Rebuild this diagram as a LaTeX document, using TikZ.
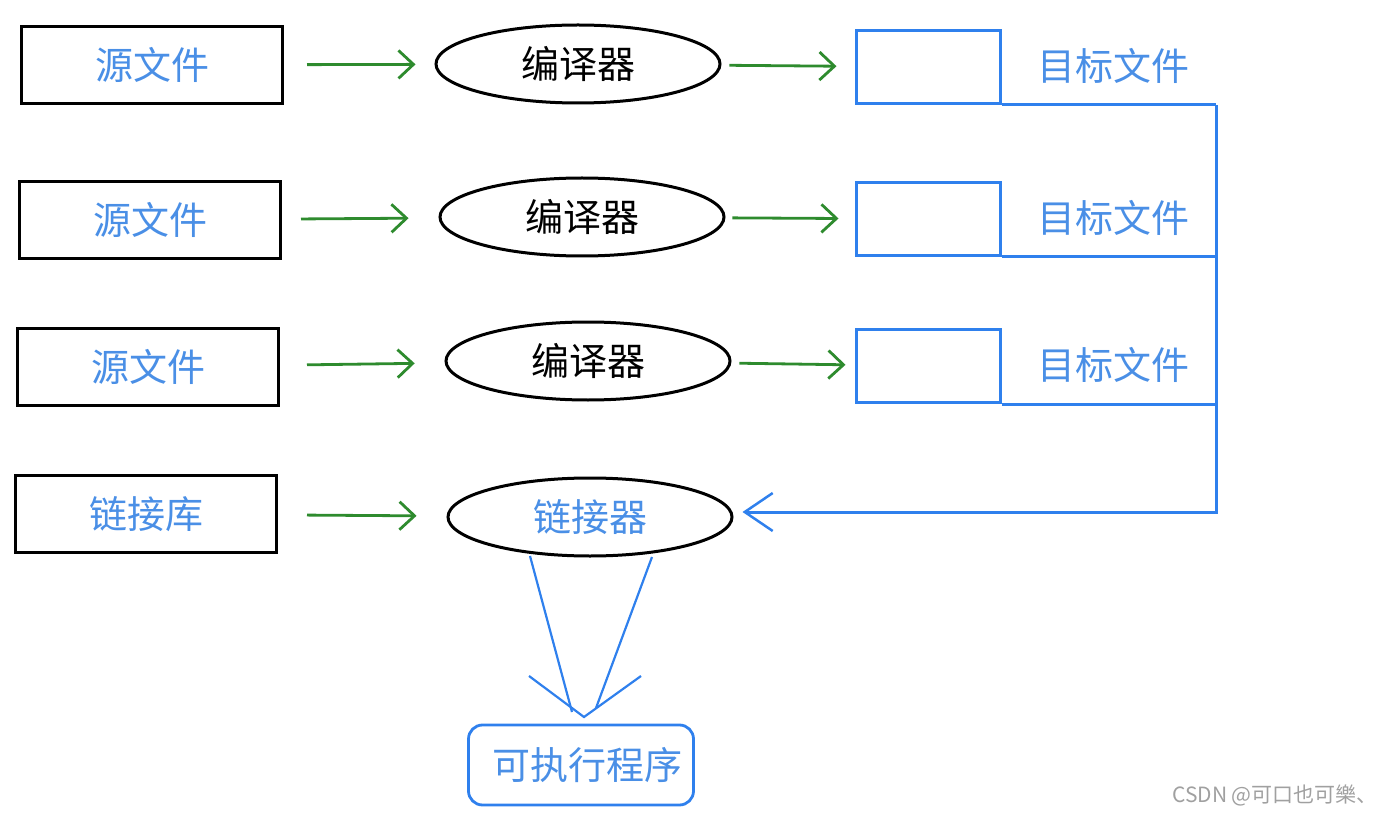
\documentclass[tikz,border=0pt]{standalone}
\usepackage{fontspec}
\setmainfont{Noto Sans CJK SC}
\usetikzlibrary{shapes.geometric,arrows.meta}
\definecolor{ablue}{HTML}{2F80ED}
\definecolor{tblue}{HTML}{4A8FE6}
\definecolor{agreen}{HTML}{2E8B2E}
\definecolor{wgray}{HTML}{A0A0A0}
\begin{document}
\begin{tikzpicture}[x=1pt,y=-1pt,
  big/.style={font=\fontsize{38}{44}\selectfont},
  srcbox/.style={draw=black,line width=3pt,minimum width=261pt,minimum height=77pt,inner sep=0pt,text=tblue,big},
  comp/.style={ellipse,draw=black,line width=3pt,minimum width=284pt,minimum height=78pt,inner sep=0pt,big},
  tgtbox/.style={draw=ablue,line width=3pt,minimum width=144pt,minimum height=73pt,inner sep=0pt},
  tgtlabel/.style={text=tblue,big,inner sep=0pt},
  garrow/.style={draw=agreen,line width=2.8pt,-{Straight Barb[length=15pt,width=28pt,line width=2.8pt]}},
  bus/.style={draw=ablue,line width=3pt},
  bluelink/.style={draw=ablue,line width=2.2pt},
]
\useasboundingbox (0,0) rectangle (1400,818);

% sources
\node[srcbox] (s1) at (152,65) {源文件};
\node[srcbox] (s2) at (150,220) {源文件};
\node[srcbox] (s3) at (148,367) {源文件};
\node[srcbox] (s4) at (146,514) {链接库};

% compilers
\node[comp] (c1) at (578,64) {编译器};
\node[comp] (c2) at (582,217) {编译器};
\node[comp] (c3) at (588,361) {编译器};
\node[comp,text=tblue] (link) at (590,517) {链接器};

% targets
\node[tgtbox] (t1) at (928,67) {};
\node[tgtbox] (t2) at (928,219) {};
\node[tgtbox] (t3) at (928,366) {};
\node[tgtlabel] (l1) at (1113,66) {目标文件};
\node[tgtlabel] (l2) at (1113,218) {目标文件};
\node[tgtlabel] (l3) at (1113,365) {目标文件};

% green arrows
\draw[garrow,shorten <=23pt,shorten >=19pt] (s1) -- (c1);
\draw[garrow,shorten <=19pt,shorten >=30pt] (s2) -- (c2);
\draw[garrow,shorten <=27pt,shorten >=30pt] (s3) -- (c3);
\draw[garrow,shorten <=29pt,shorten >=30pt] (s4) -- (link);
\draw[garrow,shorten <=8pt,shorten >=18pt] (c1) -- (t1);
\draw[garrow,shorten <=7pt,shorten >=16pt] (c2) -- (t2);
\draw[garrow,shorten <=8pt,shorten >=9pt] (c3) -- (t3);

% bus
\coordinate (b4) at (1216,512);
\draw[bus] (t1.south east) -- (t1.south east -| b4);
\draw[bus] (t2.south east) -- (t2.south east -| b4);
\draw[bus] (t3.south east) -- (t3.south east -| b4);
\draw[bus,-{Straight Barb[length=28pt,width=38pt,line width=2.5pt]}] (t1.south east -| b4) -- (b4) -- ([xshift=9pt,yshift=5pt]link.east);

% executable
\node[draw=ablue,line width=2.8pt,rounded corners=14pt,minimum width=225pt,minimum height=80pt,inner sep=0pt,text=tblue,big] (exe) at (581,765) {\hspace*{12pt}可执行程序};

\coordinate (k1) at (530,556);
\coordinate (k2) at (652,557);
\coordinate (tipL) at (572,712);
\coordinate (tipR) at (596,708);
\coordinate (tip) at (584,717);
\draw[bluelink] (k1) -- (tipL);
\draw[bluelink] (k2) -- (tipR);
\draw[bluelink] ([xshift=-55pt,yshift=41pt]tip) -- (tip) -- ([xshift=57pt,yshift=41pt]tip);

% watermark
\node[text=wgray,font=\fontsize{21}{25}\selectfont,inner sep=0pt] (wm) at (1275,795) {CSDN @可口也可樂、};
\end{tikzpicture}
\end{document}
